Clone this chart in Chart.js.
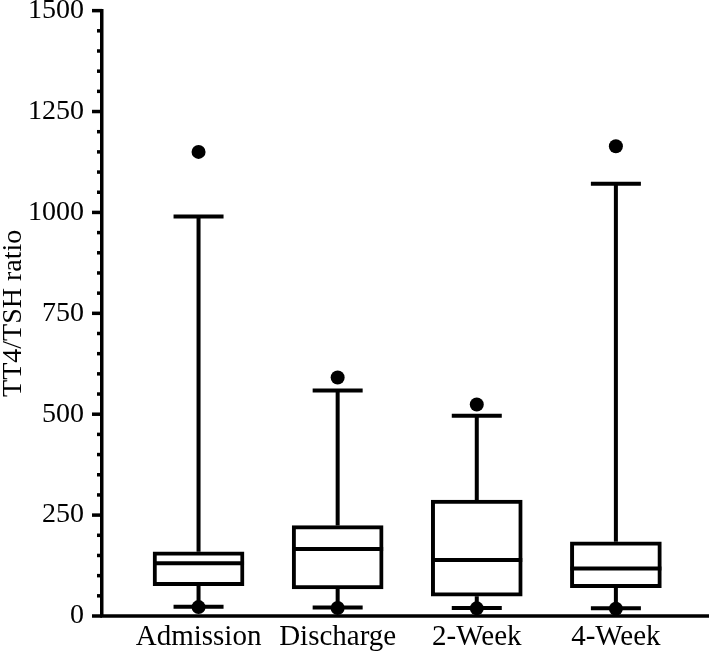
<!DOCTYPE html>
<html>
<head>
<meta charset="utf-8">
<script src="https://cdn.jsdelivr.net/npm/chart.js@4/dist/chart.umd.min.js"></script>
<style>
  html, body { margin: 0; padding: 0; background: #fff; }
  canvas { display: block; }
</style>
</head>
<body>
<canvas id="ratioChart" width="709" height="658"></canvas>
<script>
const groups = ["Admission", "Discharge", "2-Week", "4-Week"]

const whiskerLow = [23, 21, 20, 19]
const q1 = [75, 67, 49, 70]
const medians = [131, 166, 139, 118]
const q3 = [159, 224, 287, 184]
const whiskerHigh = [990, 559, 496, 1071]

const outlierHigh = [1150, 591, 524, 1164]
const outlierLow = [22, 20, 19, 18]

const yTicks = [0, 250, 500, 750, 1000, 1250, 1500]

Chart.defaults.font.family = "'Liberation Serif', 'Times New Roman', serif"
Chart.defaults.color = "#000"

const boxData = groups.map((g, i) => ({ x: i + 1, y: [q1[i], q3[i]] }))

const dots = []
groups.forEach((g, i) => {
    dots.push({ x: i + 1, y: outlierHigh[i] })
    dots.push({ x: i + 1, y: outlierLow[i] })
})

// whiskers, caps, medians, y tick marks (long major, short minor) and the x axis line
const boxParts = {
    id: "boxParts",
    afterDatasetsDraw(chart) {
        const { ctx, scales: { x, y } } = chart
        const bars = chart.getDatasetMeta(0).data
        ctx.save()
        ctx.strokeStyle = "#000"
        ctx.lineWidth = 4
        ctx.lineCap = "butt"
        groups.forEach((g, i) => {
            const cx = x.getPixelForValue(i + 1)
            const half = bars[i].width / 2
            const capHalf = 25

            ctx.beginPath()
            ctx.moveTo(cx, y.getPixelForValue(q3[i]))
            ctx.lineTo(cx, y.getPixelForValue(whiskerHigh[i]))
            ctx.moveTo(cx, y.getPixelForValue(q1[i]))
            ctx.lineTo(cx, y.getPixelForValue(whiskerLow[i]))
            ctx.stroke()

            ctx.beginPath()
            ctx.moveTo(cx - capHalf, y.getPixelForValue(whiskerHigh[i]))
            ctx.lineTo(cx + capHalf, y.getPixelForValue(whiskerHigh[i]))
            ctx.moveTo(cx - capHalf, y.getPixelForValue(whiskerLow[i]))
            ctx.lineTo(cx + capHalf, y.getPixelForValue(whiskerLow[i]))
            ctx.stroke()

            ctx.beginPath()
            ctx.moveTo(cx - half, y.getPixelForValue(medians[i]))
            ctx.lineTo(cx + half, y.getPixelForValue(medians[i]))
            ctx.stroke()
        })
        ctx.restore()
    },
    afterDraw(chart) {
        const { ctx, scales: { y } } = chart
        const { left, bottom } = chart.chartArea
        ctx.save()
        ctx.strokeStyle = "#000"
        ctx.lineWidth = 3.5
        y.ticks.forEach(t => {
            const len = yTicks.includes(t.value) ? 10 : 5
            const py = y.getPixelForValue(t.value)
            ctx.beginPath()
            ctx.moveTo(left - len, py)
            ctx.lineTo(left, py)
            ctx.stroke()
        })
        ctx.beginPath()
        ctx.moveTo(left - 1.75, bottom)
        ctx.lineTo(chart.width, bottom)
        ctx.stroke()
        ctx.restore()
    }
}

new Chart(document.getElementById("ratioChart"), {

    type: "bar",

    data: {
        datasets: [
            {
                type: "bar",
                data: boxData,
                backgroundColor: "#fff",
                borderColor: "#000",
                borderWidth: 4,
                borderSkipped: false,
                barThickness: 91
            },
            {
                type: "scatter",
                data: dots,
                pointRadius: 7,
                pointBackgroundColor: "#000",
                pointBorderWidth: 0
            }
        ]
    },

    options: {
        responsive: false,
        animation: false,
        layout: { padding: 0 },
        plugins: {
            legend: { display: false },
            tooltip: { enabled: false }
        },
        scales: {
            x: {
                type: "linear",
                min: 0.306,
                max: 4.619,
                offset: false,
                afterBuildTicks: axis => {
                    axis.ticks = groups.map((g, i) => ({ value: i + 1 }))
                },
                grid: { display: false, drawTicks: false },
                border: { display: false },
                ticks: {
                    autoSkip: false,
                    maxRotation: 0,
                    padding: 6.5,
                    font: { size: 29, lineHeight: 1 },
                    callback: v => groups[v - 1]
                }
            },
            y: {
                min: 0,
                max: 1500,
                grid: {
                    drawOnChartArea: false,
                    drawTicks: true,
                    tickLength: 18,
                    tickColor: "rgba(0,0,0,0)"
                },
                border: { display: true, color: "#000", width: 3.5 },
                ticks: {
                    stepSize: 50,
                    autoSkip: false,
                    padding: 0,
                    font: { size: 28, lineHeight: 0.76 },
                    callback: v => yTicks.includes(v) ? String(v) : ""
                },
                title: {
                    display: true,
                    text: "TT4/TSH ratio",
                    padding: 0,
                    font: { size: 28, lineHeight: 1 }
                }
            }
        }
    },

    plugins: [boxParts]
})
</script>
</body>
</html>
